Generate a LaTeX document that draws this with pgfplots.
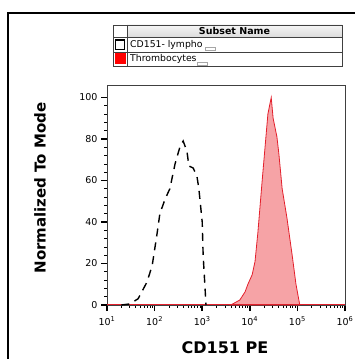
\documentclass[border=0pt]{standalone}
\usepackage{pgfplots}
\pgfplotsset{compat=1.18}
\usepackage{fontspec}
\setmainfont{DejaVu Sans}
\definecolor{pkfill}{HTML}{F6A3A6}
\definecolor{pkline}{HTML}{E3202C}
\definecolor{framegray}{HTML}{404040}
\begin{document}
\begin{tikzpicture}[x=1pt,y=1pt]
\useasboundingbox (0,0) rectangle (355,359);
% outer frame (cropped)
\draw[line width=1.4pt,black] (8,-2) -- (8,346) -- (357,346);
% legend table
\shade[top color=gray!8,bottom color=gray!28] (127,322) rectangle (342,334);
\draw[framegray,line width=0.6pt] (113,293) rectangle (342,334);
\draw[framegray,line width=0.6pt] (113,322) -- (342,322);
\draw[framegray,line width=0.6pt] (113,307) -- (342,307);
\draw[framegray,line width=0.6pt] (127,293) -- (127,334);
\node[font=\fontsize{9.5}{10}\selectfont\bfseries] at (234.5,328) {Subset Name};
\draw[black,line width=1.2pt,fill=white] (115.5,309.5) rectangle (124.5,319);
\fill[red] (114.5,294.5) rectangle (125.5,305.5);
\node[anchor=west,font=\fontsize{9.3}{10}\selectfont,inner sep=0pt] at (130,314.5) {CD151- lympho};
\node[anchor=west,font=\fontsize{9.3}{10}\selectfont,inner sep=0pt] at (130,300) {Thrombocytes};
\draw[gray!70,line width=0.5pt] (205,308.5) rectangle (215,311.5);
\draw[gray!70,line width=0.5pt] (197,294) rectangle (207,297);
\begin{axis}[
  at={(107pt,54pt)}, anchor=south west,
  width=238pt, height=220pt, scale only axis,
  xmode=log, xmin=10, xmax=1e6,
  ymin=0, ymax=106,
  xtick={10,100,1000,10000,100000,1000000},
  xticklabels={10\textsuperscript{1},10\textsuperscript{2},10\textsuperscript{3},10\textsuperscript{4},10\textsuperscript{5},10\textsuperscript{6}},
  ytick={0,20,40,60,80,100},
  minor y tick num=4,
  tick align=outside, xtick pos=bottom, ytick pos=left,
  major tick length=6pt, minor tick length=3pt,
  every major tick/.style={line width=1.6pt,black},
  every minor tick/.style={line width=0.7pt,black},
  tick label style={font=\fontsize{9.5}{10}\selectfont},
  xticklabel style={yshift=-2pt},
  /pgf/number format/assume math mode=true,
  axis line style={framegray,line width=0.8pt},
  clip=false,
]
\addplot[draw=pkline,fill=pkfill,line width=0.8pt] coordinates {
(3981,0) (6166,2.4) (7943,6.3) (9120,10) (11220,14.6) (12880,21) (14790,35)
(18200,60) (20890,76) (23990,92) (28180,100) (30900,90) (37150,81) (40740,73)
(47860,56) (60260,42) (77620,24) (93330,10) (112200,0)} \closedcycle;
\addplot[pkline,line width=0.8pt] coordinates {(10,0.3) (1e6,0.3)};
\addplot[black,line width=1.4pt,dash pattern=on 8pt off 6pt] coordinates {
(20,0) (30,0.5) (45,3) (69,11) (89,19) (112,34) (129,44) (166,51) (209,56)
(269,68) (339,76) (398,79) (479,74) (525,67) (646,66) (776,62) (851,56)
(1000,40) (1047,24) (1148,8) (1202,0)};
\end{axis}
\node[rotate=90,font=\fontsize{15}{16}\selectfont\bfseries] at (40,171) {Normalized To Mode};
\node[font=\fontsize{16}{17}\selectfont\bfseries] at (225,11) {CD151 PE};
\end{tikzpicture}
\end{document}
